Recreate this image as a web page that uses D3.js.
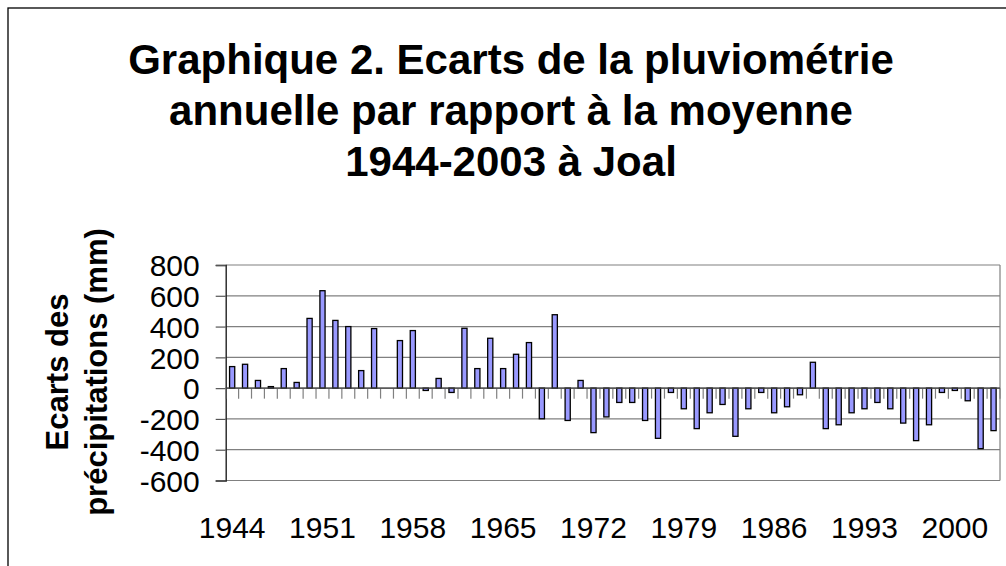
<!DOCTYPE html>
<html>
<head>
<meta charset="utf-8">
<script src="https://cdn.jsdelivr.net/npm/d3@7"></script>
<style>
  html, body { margin: 0; padding: 0; background: #fff; }
  svg { display: block; font-family: "Liberation Sans", Arial, sans-serif; }
</style>
</head>
<body>
<svg id="chart" width="1006" height="566"></svg>
<script>
const years = [1944,1945,1946,1947,1948,1949,1950,1951,1952,1953,1954,1955,1956,1957,1958,1959,
  1960,1961,1962,1963,1964,1965,1966,1967,1968,1969,1970,1971,1972,1973,1974,1975,1976,1977,1978,1979,
  1980,1981,1982,1983,1984,1985,1986,1987,1988,1989,1990,1991,1992,1993,1994,1995,1996,1997,1998,1999,
  2000,2001,2002,2003];
const ecarts = [140,155,50,10,127,37,453,633,440,400,114,387,null,309,374,-15,
  63,-28,389,127,324,127,220,296,-199,477,-210,50,-289,-187,-93,-93,-210,-326,-28,-134,
  -263,-160,-106,-313,-134,-28,-160,-121,-43,168,-263,-238,-160,-134,-93,-134,-227,-341,-238,-28,
  -15,-82,-393,-276];
const yTicks = [-600,-400,-200,0,200,400,600,800];
const xTickLabels = [1944,1951,1958,1965,1972,1979,1986,1993,2000];
const titleLines = ["Graphique 2. Ecarts de la pluviométrie", "annuelle par rapport à la moyenne", "1944-2003 à Joal"];
const yTitleLines = ["Ecarts des", "précipitations (mm)"];

const svg = d3.select("#chart");
const plot = {left: 225.7, right: 1000, top: 265, bottom: 480.5};

// outer chart border
svg.append("rect").attr("x", 8).attr("y", 8).attr("width", 1010).attr("height", 600)
  .attr("fill", "none").attr("stroke", "#000").attr("stroke-width", 1.3);

// title
svg.append("text").attr("text-anchor", "middle").attr("font-weight", "bold").attr("font-size", 42)
  .selectAll("tspan").data(titleLines).join("tspan")
  .attr("x", 511).attr("y", (d, i) => 74 + i * 51).text(d => d);

const x = d3.scaleBand().domain(years).range([plot.left, plot.right]).paddingInner(0.6).paddingOuter(0.3);
const xb = d3.scaleBand().domain(years).range([plot.left, plot.right]);
const y = d3.scaleLinear().domain([-600, 800]).range([plot.bottom, plot.top]);

// gridlines
svg.append("g").selectAll("line").data(yTicks).join("line")
  .attr("x1", plot.left).attr("x2", plot.right)
  .attr("y1", d => y(d)).attr("y2", d => y(d))
  .attr("stroke", "#808080").attr("stroke-width", 1.2);

// right border
svg.append("line").attr("x1", plot.right).attr("x2", plot.right).attr("y1", plot.top).attr("y2", plot.bottom)
  .attr("stroke", "#808080").attr("stroke-width", 1.2);

// y axis
const yAxis = svg.append("g").attr("transform", `translate(${plot.left},0)`)
  .call(d3.axisLeft(y).tickValues(yTicks).tickSize(10).tickPadding(16).tickFormat(d => String(d)));
yAxis.select(".domain").attr("stroke", "#222").attr("stroke-width", 1.4);
yAxis.selectAll(".tick line").attr("stroke", "#555").attr("stroke-width", 1.2);
yAxis.selectAll(".tick text").attr("font-size", 30).attr("fill", "#000")
  .attr("font-family", "'Liberation Sans', Arial, sans-serif").attr("dy", "0.36em");

// category ticks along zero line
const boundaries = years.map(d => xb(d)).concat([plot.right]);
svg.append("g").selectAll("line").data(boundaries).join("line")
  .attr("x1", d => d).attr("x2", d => d)
  .attr("y1", y(0)).attr("y2", y(0) + 10.5)
  .attr("stroke", "#808080").attr("stroke-width", 1.2);

// bars
svg.append("g").selectAll("rect").data(years.map((yr, i) => ({yr, v: ecarts[i]})).filter(d => d.v !== null))
  .join("rect")
  .attr("x", d => x(d.yr)).attr("width", x.bandwidth())
  .attr("y", d => y(Math.max(0, d.v)))
  .attr("height", d => Math.abs(y(d.v) - y(0)))
  .attr("fill", "#9999FF").attr("stroke", "#000").attr("stroke-width", 1.3);

// zero axis line
svg.append("line").attr("x1", plot.left).attr("x2", plot.right).attr("y1", y(0)).attr("y2", y(0))
  .attr("stroke", "#444").attr("stroke-width", 1.3);

// x tick labels
svg.append("g").selectAll("text").data(xTickLabels).join("text")
  .attr("x", d => xb(d) + xb.bandwidth() / 2).attr("y", 538)
  .attr("text-anchor", "middle").attr("font-size", 30).text(d => d);

// y axis title
svg.append("text").attr("transform", "translate(0,372) rotate(-90)")
  .attr("text-anchor", "middle").attr("font-weight", "bold").attr("font-size", 31)
  .selectAll("tspan").data(yTitleLines).join("tspan")
  .attr("x", 0).attr("y", (d, i) => 68 + i * 39).text(d => d);
</script>
</body>
</html>
